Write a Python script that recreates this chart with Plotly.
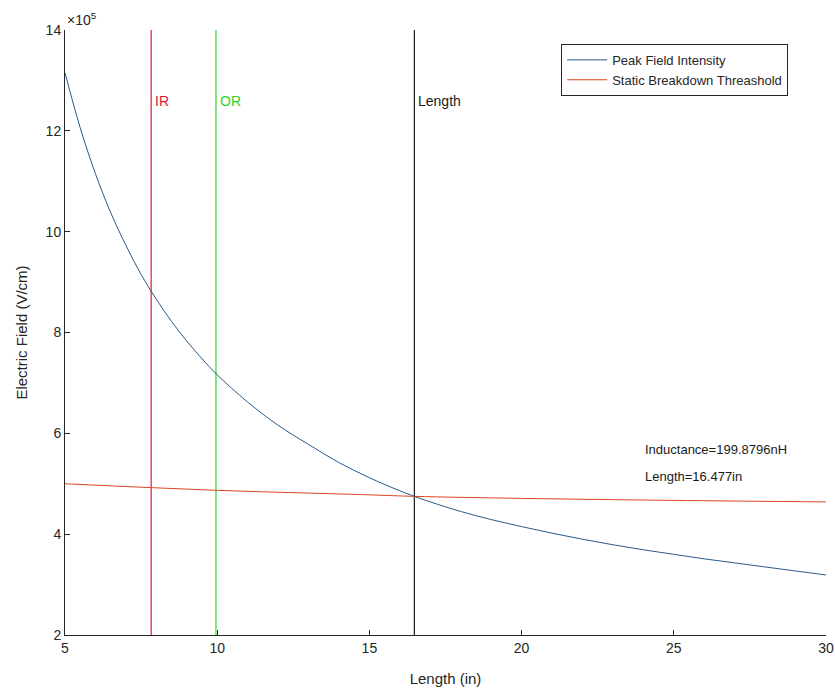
import plotly.graph_objects as go

# Peak field along the conductor length (values in units of 1e5 V/cm)
length_in = [5, 5.5, 6, 6.5, 7, 7.5, 8, 8.5, 9, 9.5, 10, 11, 12, 13, 14, 15, 16,
             16.477, 17, 18, 19, 20, 21, 22, 23, 24, 25, 26, 27, 28, 29, 30]
peak_field_e5 = [13.15, 12.06, 11.15, 10.38, 9.73, 9.15, 8.66, 8.22, 7.83, 7.48, 7.16,
                 6.62, 6.16, 5.78, 5.42, 5.12, 4.86, 4.75, 4.64, 4.45, 4.29, 4.15,
                 4.02, 3.90, 3.79, 3.69, 3.60, 3.51, 3.43, 3.35, 3.27, 3.19]

# Static breakdown threshold
thresh_len_in = [5, 10, 15, 16.477, 20, 25, 30]
thresh_field_e5 = [5.00, 4.87, 4.78, 4.75, 4.71, 4.67, 4.64]

# Reference lengths
ir_len = 7.83
or_len = 9.96
sel_len = 16.477

x_ticks = [5, 10, 15, 20, 25, 30]
y_ticks = [2, 4, 6, 8, 10, 12, 14]
y_tick_labels = ["2", "4", "6", "8", "10", "12", "14"]

SCALE = 1e5
FONT = "Liberation Sans, Arial, sans-serif"
AX = "#262626"

peak_field = [v * SCALE for v in peak_field_e5]
thresh_field = [v * SCALE for v in thresh_field_e5]
y_lo, y_hi = y_ticks[0] * SCALE, y_ticks[-1] * SCALE

fig = go.Figure()

for xv, col in [(ir_len, "#e3173d"), (or_len, "#2fd42f"), (sel_len, "#1a1a1a")]:
    fig.add_trace(go.Scatter(x=[xv, xv], y=[y_lo, y_hi], mode="lines",
                             line=dict(color=col, width=1.2), showlegend=False,
                             hoverinfo="skip"))

fig.add_trace(go.Scatter(x=length_in, y=peak_field, mode="lines",
                         name="Peak Field Intensity",
                         line=dict(color="#2b5a86", width=1, shape="spline")))
fig.add_trace(go.Scatter(x=thresh_len_in, y=thresh_field, mode="lines",
                         name="Static Breakdown Threashold",
                         line=dict(color="#d9451f", width=1, shape="spline")))

label_y = 12.59 * SCALE
for xv, txt, col in [(ir_len, "IR", "#e3173d"), (or_len, "OR", "#2fd42f"),
                     (sel_len, "Length", "#1a1a1a")]:
    fig.add_annotation(x=xv, y=label_y, text=txt, showarrow=False, xanchor="left",
                       xshift=2, font=dict(family=FONT, size=14, color=col))

fig.add_annotation(x=24, y=5.67 * SCALE, text="Inductance=199.8796nH", showarrow=False,
                   xanchor="left", font=dict(family=FONT, size=13, color="#1a1a1a"))
fig.add_annotation(x=24, y=5.15 * SCALE, text="Length=16.477in", showarrow=False,
                   xanchor="left", font=dict(family=FONT, size=13, color="#1a1a1a"))

fig.add_annotation(xref="paper", yref="paper", x=0, y=1.0, yanchor="bottom",
                   xanchor="left", text="×10<sup>5</sup>", showarrow=False,
                   font=dict(family=FONT, size=14, color=AX))

fig.update_layout(
    width=835, height=693,
    margin=dict(l=65, r=9, t=30, b=58),
    paper_bgcolor="white", plot_bgcolor="white",
    font=dict(family=FONT, size=14, color=AX),
    legend=dict(x=0.652, y=0.977, xanchor="left", yanchor="top",
                bgcolor="white", bordercolor=AX, borderwidth=1,
                font=dict(family=FONT, size=13, color=AX),
                itemwidth=40, tracegroupgap=0),
    xaxis=dict(range=[x_ticks[0], x_ticks[-1]], tickvals=x_ticks,
               automargin=False,
               showgrid=False, zeroline=False, showline=True, linecolor=AX,
               linewidth=1, ticks="inside", ticklen=5, tickcolor=AX,
               title=dict(text="Length (in)", standoff=18,
                          font=dict(family=FONT, size=15, color=AX))),
    yaxis=dict(range=[y_lo, y_hi], tickvals=[v * SCALE for v in y_ticks],
               ticktext=y_tick_labels, automargin=False,
               showgrid=False, zeroline=False, showline=True, linecolor=AX,
               linewidth=1, ticks="inside", ticklen=5, tickcolor=AX,
               title=dict(text="Electric Field (V/cm)", standoff=14,
                          font=dict(family=FONT, size=15, color=AX))),
)

fig.write_html("out.html")
